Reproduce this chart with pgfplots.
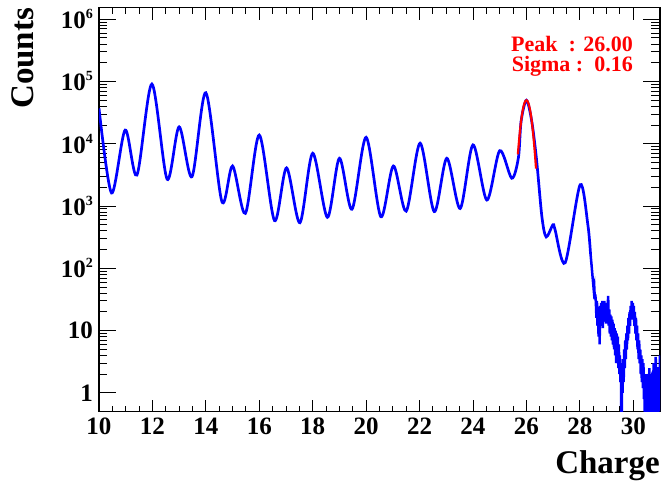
\documentclass[border=0pt]{standalone}
\usepackage{fontspec}
\setmainfont{Liberation Serif}
\usepackage{pgfplots}
\pgfplotsset{compat=1.18}

\newcommand\pw[1]{10\raisebox{10pt}{\fontsize{14}{14}\selectfont #1}}

\begin{document}
\begin{tikzpicture}
\begin{axis}[
  at={(0,0)}, anchor=south west,
  scale only axis, width=561pt, height=404pt,
  xmin=10, xmax=31, ymin=0.5, ymax=1.53e6,
  ymode=log,
  xtick={10,12,14,16,18,20,22,24,26,28,30},
  xticklabels={10,12,14,16,18,20,22,24,26,28,30},
  minor x tick num=3,
  ytick={1,10,100,1000,10000,100000,1000000},
  yticklabels={1,10,\pw{2},\pw{3},\pw{4},\pw{5},\pw{6}},
  tick align=inside, tick pos=both,
  major tick length=12pt, minor tick length=6pt,
  every major y tick/.append style={/pgfplots/major tick length=17pt},
  every minor y tick/.append style={/pgfplots/minor tick length=8.5pt},
  tick style={black, line width=0.9pt},
  axis line style={black, line width=1.3pt},
  tick label style={font=\fontsize{25}{25}\selectfont\bfseries},
  xticklabel style={anchor=north, inner sep=0pt, yshift=-6pt},
  yticklabel style={anchor=east, inner sep=0pt, xshift=-6pt},
  clip=true,
]
% smooth part of the spectrum
\addplot[blue, line width=2.7pt, smooth, tension=0.5] coordinates {
(10.0,37000) (10.47,1620) (10.98,16600) (11.42,3150) (11.98,91000)
(12.55,2700) (13.0,18700) (13.48,2960) (14.0,66000) (14.6,1180)
(15.0,4400) (15.48,765) (16.0,13800) (16.57,585) (17.02,4100)
(17.52,540) (18.0,7050) (18.55,660) (19.0,5850) (19.47,890)
(20.0,12700) (20.55,675) (21.02,4400) (21.5,830) (22.02,10200)
(22.55,815) (23.02,5850) (23.52,915) (24.0,9600) (24.52,1250)
(25.0,7750) (25.45,2800) (25.7,6000) (25.8,22900) (26.0,50000)
(26.2,22900) (26.38,5500) (26.58,670) (26.74,320) (26.99,500)
(27.07,420) (27.45,123) (28.01,2200) (28.3,500) (28.4,170)
};
% noisy tail
\addplot[blue, line width=2.5pt] coordinates {
(28.40,170) (28.44,110) (28.48,70) (28.52,45) (28.54,50) (28.56,32)
(28.58,38) (28.60,28) (28.62,16) (28.64,30) (28.66,12) (28.68,24)
(28.70,8) (28.72,22) (28.74,6) (28.76,25) (28.78,12) (28.80,28)
(28.82,13) (28.84,30) (28.86,11) (28.88,27) (28.90,14) (28.92,30)
(28.94,16) (28.96,28) (28.98,13) (29.00,26) (29.02,15) (29.04,24)
(29.06,36) (29.08,12) (29.10,22) (29.12,9) (29.14,18) (29.16,8)
(29.18,17) (29.20,7) (29.22,15) (29.24,6) (29.26,13) (29.28,5)
(29.30,11) (29.32,4) (29.34,10) (29.36,3) (29.38,9) (29.40,4)
(29.42,8) (29.44,2.5) (29.46,6) (29.48,2) (29.50,4) (29.52,1.5)
(29.54,3) (29.56,0.1) (29.58,2.5) (29.60,1) (29.62,3.5) (29.64,1.5)
(29.66,5) (29.68,2.5) (29.70,7) (29.72,3.5) (29.74,9) (29.76,5)
(29.78,12) (29.80,7) (29.82,16) (29.84,9) (29.86,20) (29.88,12)
(29.90,25) (29.92,15) (29.94,30) (29.96,18) (29.98,28) (30.00,15)
(30.02,25) (30.04,12) (30.06,20) (30.08,9) (30.10,16) (30.12,7)
(30.14,12) (30.16,5) (30.18,9) (30.20,3.5) (30.22,7) (30.24,3)
(30.26,5) (30.28,2) (30.30,4) (30.32,1.5) (30.34,3.5) (30.36,1.2)
(30.38,3) (30.40,0.8) (30.42,2) (30.44,0.1) (30.46,1.2) (30.48,0.1)
(30.50,0.6) (30.52,2) (30.54,0.1) (30.56,1.5) (30.58,0.5) (30.60,2.5)
(30.62,0.7) (30.64,2) (30.66,0.1) (30.68,1.6) (30.70,0.5) (30.72,2.2)
(30.74,0.6) (30.76,3) (30.78,0.1) (30.80,1.2) (30.82,0.5) (30.84,3.8)
(30.86,0.6) (30.88,2) (30.90,0.1) (30.92,2.6) (30.94,0.6) (30.96,1.8)
(30.98,0.5) (31.00,4)
};
% gaussian fit
\addplot[red, line width=2.2pt, smooth] coordinates {
(25.68,6770) (25.72,10800) (25.76,16200) (25.80,22900) (25.84,30300)
(25.88,37700) (25.92,44100) (25.96,48500) (26.00,50000) (26.04,48500)
(26.08,44100) (26.12,37700) (26.16,30300) (26.20,22900) (26.24,16200)
(26.28,10800) (26.32,6770) (26.36,3990)
};
\end{axis}
\begin{scope}[font=\fontsize{22}{22}\selectfont\bfseries, text=red, inner sep=0pt]
\node[anchor=base east] at (534pt,360.5pt) {Peak\hspace{0.5em}: 26.00};
\node[anchor=base east] at (534pt,340.5pt) {Sigma :\hspace{0.5em}0.16};
\end{scope}
\node[rotate=90, anchor=south east, inner sep=0pt, font=\fontsize{33}{33}\selectfont\bfseries] at (-65pt,404pt) {Counts};
\node[anchor=base east, inner sep=0pt, font=\fontsize{33}{33}\selectfont\bfseries] at (561pt,-62pt) {Charge};
\pgfresetboundingbox
\path (-99pt,-72.3pt) rectangle (563pt,411.7pt);
\end{tikzpicture}
\end{document}
